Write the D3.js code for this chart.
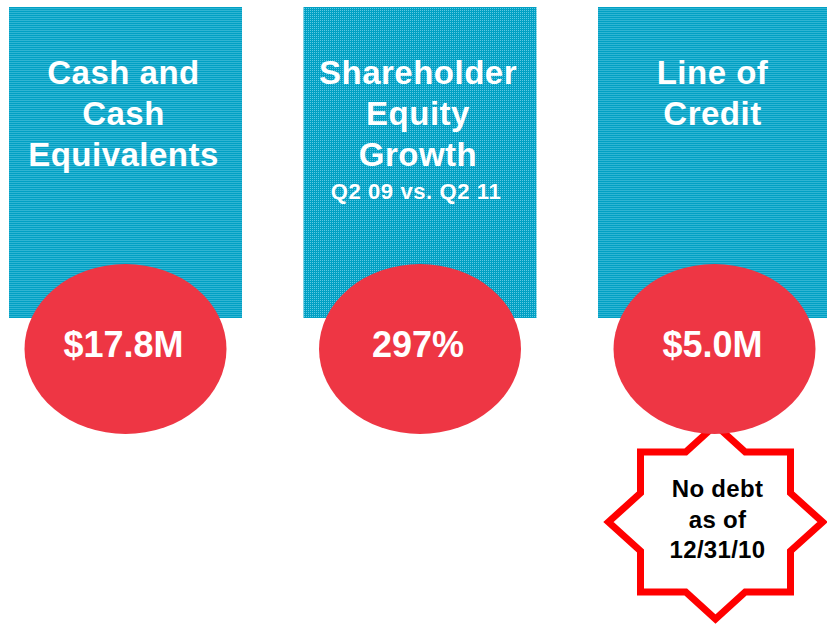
<!DOCTYPE html>
<html>
<head>
<meta charset="utf-8">
<script src="https://cdn.jsdelivr.net/npm/d3@7"></script>
<style>
  body { margin: 0; background: #fff; }
  svg { display: block; }
  text { font-family: "Liberation Sans", Arial, sans-serif; font-weight: bold; }
</style>
</head>
<body>
<div id="viz"></div>
<script>
// panel data
const categories = ["cash", "equity", "credit"];
const titles = [
  ["Cash and", "Cash", "Equivalents"],
  ["Shareholder", "Equity", "Growth"],
  ["Line of", "Credit"]
];
const subtitles = ["", "Q2 09 vs. Q2 11", ""];
const values = ["$17.8M", "297%", "$5.0M"];
const notes = [null, null, ["No debt", "as of", "12/31/10"]];

const width = 827, height = 624;

let svg = d3.select("#viz")
  .append("svg")
    .attr("width", width)
    .attr("height", height);

// dotted teal texture of the boxes
let defs = svg.append("defs");
let pat = defs.append("pattern")
  .attr("id", "dots")
  .attr("patternUnits", "userSpaceOnUse")
  .attr("width", 4)
  .attr("height", 4);
pat.append("rect").attr("width", 4).attr("height", 4).attr("fill", "#01a0c4");
[[0, 0], [2, 0], [0, 2], [2, 2]].forEach(p => {
  pat.append("rect")
    .attr("x", p[0]).attr("y", p[1])
    .attr("width", 1).attr("height", 1)
    .attr("fill", "#5ec9e1");
});

// one band per panel
let xScale = d3.scaleBand()
  .domain(categories)
  .range([9, 831])
  .paddingInner(0.2088)
  .paddingOuter(0);
let bw = xScale.bandwidth();

let boxTop = 7, boxBottom = 318;
let ellCy = 349, ellRx = 101, ellRy = 85;

let panels = svg.selectAll("g.panel")
  .data(categories)
  .enter()
  .append("g")
    .attr("class", "panel")
    .attr("transform", d => "translate(" + (xScale(d) + bw / 2) + ",0)");

panels.append("rect")
  .attr("x", -bw / 2)
  .attr("y", boxTop)
  .attr("width", bw)
  .attr("height", boxBottom - boxTop)
  .attr("fill", "url(#dots)");

// title lines
panels.each(function (d, i) {
  let g = d3.select(this);
  titles[i].forEach((line, j) => {
    g.append("text")
      .attr("x", -2)
      .attr("y", 84 + j * 41)
      .attr("text-anchor", "middle")
      .attr("fill", "#fff")
      .style("font-size", "33px")
      .style("letter-spacing", "0.5px")
      .text(line);
  });
  if (subtitles[i]) {
    g.append("text")
      .attr("x", -4)
      .attr("y", 199)
      .attr("text-anchor", "middle")
      .attr("fill", "#fff")
      .style("font-size", "22px")
      .style("letter-spacing", "0.6px")
      .text(subtitles[i]);
  }
});

// the star note (drawn under the ellipse)
function starPath(rx, ry, sx, sy) {
  let ix = rx * (1 - sy / ry), iy = ry * (1 - sx / rx);
  let pts = [
    [0, -ry], [ix, -sy], [sx, -sy], [sx, -iy],
    [rx, 0], [sx, iy], [sx, sy], [ix, sy],
    [0, ry], [-ix, sy], [-sx, sy], [-sx, iy],
    [-rx, 0], [-sx, -iy], [-sx, -sy], [-ix, -sy]
  ];
  return d3.line()(pts) + "Z";
}

panels.each(function (d, i) {
  if (!notes[i]) return;
  let g = d3.select(this).append("g")
    .attr("transform", "translate(1,522)");
  g.append("path")
    .attr("d", starPath(107, 97, 75, 70))
    .attr("fill", "#fff")
    .attr("stroke", "#ff0000")
    .attr("stroke-width", 7)
    .attr("stroke-linejoin", "miter");
  notes[i].forEach((line, j) => {
    g.append("text")
      .attr("x", 2)
      .attr("y", -25 + j * 30.5)
      .attr("text-anchor", "middle")
      .attr("fill", "#000")
      .style("font-size", "24px")
      .style("letter-spacing", "0.3px")
      .text(line);
  });
});

// value ellipses
panels.append("ellipse")
  .attr("cx", 0)
  .attr("cy", ellCy)
  .attr("rx", ellRx)
  .attr("ry", ellRy)
  .attr("fill", "#ee3644");

panels.append("text")
  .attr("x", -2)
  .attr("y", 357)
  .attr("text-anchor", "middle")
  .attr("fill", "#fff")
  .style("font-size", "36px")
  .text((d, i) => values[i]);
</script>
</body>
</html>
